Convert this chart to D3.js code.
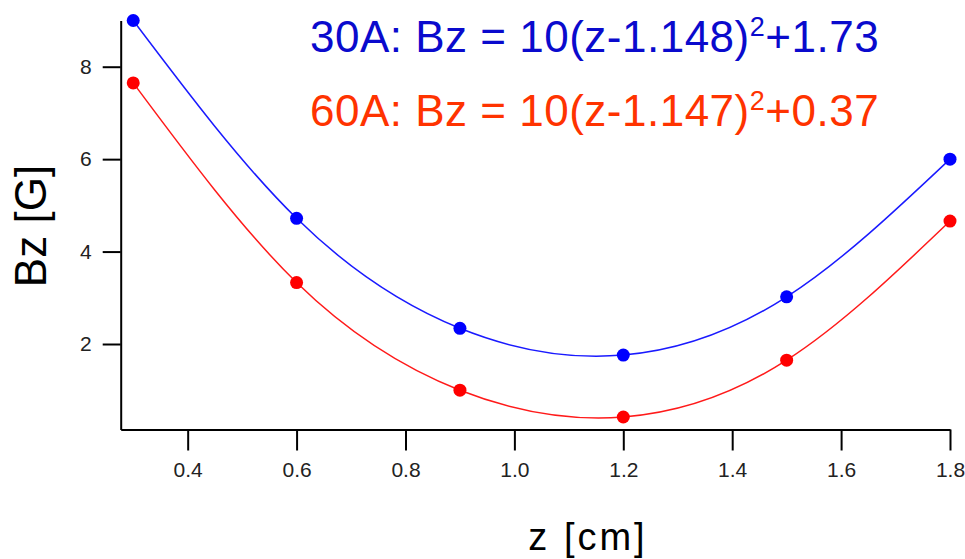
<!DOCTYPE html>
<html>
<head>
<meta charset="utf-8">
<script src="https://cdn.jsdelivr.net/npm/d3@7"></script>
<style>
  html, body { margin: 0; padding: 0; background: #fff; }
  svg { display: block; font-family: "Liberation Sans", Arial, sans-serif; }
</style>
</head>
<body>
<svg id="chart" width="965" height="559"></svg>
<script>
// Measured field positions along the axis (cm)
const zPositions = [0.3, 0.6, 0.9, 1.2, 1.5, 1.8];
// Axial field Bz (G) at 30 A coil current
const bz30A = [9.0, 4.72, 2.34, 1.76, 3.02, 6.0];
// Axial field Bz (G) at 60 A coil current
const bz60A = [7.65, 3.33, 1.0, 0.42, 1.65, 4.66];
// Tick values
const xTicks = [0.4, 0.6, 0.8, 1.0, 1.2, 1.4, 1.6, 1.8];
const yTicks = [2, 4, 6, 8];

const svg = d3.select("#chart");

const x = d3.scaleLinear().domain([0.277, 1.8]).range([120.7, 950]);
const y = d3.scaleLinear().domain([0.15, 9.0]).range([429.5, 20.5]);

// Axes
const xAxis = svg.append("g")
  .attr("transform", `translate(0,${y(0.15)})`)
  .call(d3.axisBottom(x).tickValues(xTicks).tickSize(21).tickPadding(12)
    .tickFormat(d3.format(".1f")).tickSizeOuter(0));
const yAxis = svg.append("g")
  .attr("transform", `translate(${x(0.277)},0)`)
  .call(d3.axisLeft(y).tickValues(yTicks).tickSize(18).tickPadding(11)
    .tickFormat(d3.format("d")).tickSizeOuter(0));

[xAxis, yAxis].forEach(g => {
  g.select(".domain").attr("stroke", "#000").attr("stroke-width", 2);
  g.selectAll(".tick line").attr("stroke", "#000").attr("stroke-width", 2);
  g.selectAll(".tick text")
    .attr("fill", "#222")
    .style("font-size", "21px")
    .style("font-family", "'Liberation Sans', Arial, sans-serif");
});

// Series: smooth curves through the measured points, with dot markers
const series = [
  { values: bz30A, line: "#1a1aff", dot: "#0000ff" },
  { values: bz60A, line: "#ff1a1a", dot: "#ff0000" }
];

const line = d3.line()
  .x(d => x(d[0]))
  .y(d => y(d[1]))
  .curve(d3.curveNatural);

series.forEach(s => {
  const pts = zPositions.map((z, i) => [z, s.values[i]]);
  svg.append("path")
    .datum(pts)
    .attr("fill", "none")
    .attr("stroke", s.line)
    .attr("stroke-width", 1.5)
    .attr("d", line);
  svg.append("g").selectAll("circle")
    .data(pts)
    .join("circle")
    .attr("cx", d => x(d[0]))
    .attr("cy", d => y(d[1]))
    .attr("r", 6.5)
    .attr("fill", s.dot);
});

// Axis titles
svg.append("text")
  .attr("transform", "translate(46,226) rotate(-90)")
  .attr("text-anchor", "middle")
  .style("font-size", "44px")
  .attr("fill", "#000")
  .text("Bz [G]");

svg.append("text")
  .attr("x", 588)
  .attr("y", 550)
  .attr("text-anchor", "middle")
  .style("font-size", "38px")
  .style("letter-spacing", "3px")
  .attr("fill", "#000")
  .text("z [cm]");

// Fit equations
const fits = [
  { label: "30A: Bz = 10(z-1.148)", tail: "+1.73", color: "#0a0acd", yBase: 52 },
  { label: "60A: Bz = 10(z-1.147)", tail: "+0.37", color: "#ff3300", yBase: 126 }
];
fits.forEach(f => {
  const t = svg.append("text")
    .attr("x", 310)
    .attr("y", f.yBase)
    .attr("fill", f.color)
    .style("font-size", "44px")
    .style("letter-spacing", "0.5px");
  t.append("tspan").text(f.label);
  t.append("tspan").attr("dy", -16).style("font-size", "27px").text("2");
  t.append("tspan").attr("dy", 16).text(f.tail);
});
</script>
</body>
</html>
